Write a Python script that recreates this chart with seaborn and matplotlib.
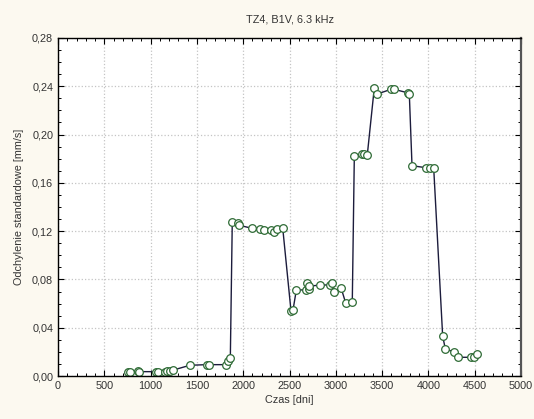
import matplotlib
matplotlib.use("Agg")
import matplotlib.pyplot as plt
import seaborn as sns
import pandas as pd
from matplotlib.ticker import MultipleLocator, FuncFormatter

days = [759, 778, 861, 878, 1055, 1083, 1156, 1180, 1210, 1239, 1425, 1609, 1631,
        1811, 1833, 1861,
        1882, 1941, 1955, 2092, 2181, 2225, 2300, 2336, 2362, 2427,
        2516, 2538, 2574, 2675, 2689, 2707, 2711, 2829, 2934, 2962, 2984, 3056, 3106, 3178,
        3200, 3280, 3308, 3340, 3416, 3448, 3596, 3628, 3783, 3794,
        3823, 3970, 4017, 4057,
        4154, 4183, 4276, 4323, 4457, 4492, 4528]
std_dev = [0.0036, 0.0036, 0.0039, 0.0036, 0.0036, 0.0030, 0.0036, 0.0039, 0.0045, 0.0048, 0.0089, 0.0094, 0.0094,
           0.0094, 0.0127, 0.0149,
           0.1278, 0.1270, 0.1249, 0.1224, 0.1218, 0.1208, 0.1212, 0.1193, 0.1220, 0.1224,
           0.0541, 0.0547, 0.0713, 0.0713, 0.0770, 0.0718, 0.0743, 0.0754, 0.0754, 0.0770, 0.0693, 0.0732, 0.0607, 0.0613,
           0.1820, 0.1837, 0.1837, 0.1831, 0.2389, 0.2336, 0.2375, 0.2375, 0.2345, 0.2334,
           0.1742, 0.1726, 0.1726, 0.1726,
           0.0331, 0.0224, 0.0199, 0.0155, 0.0155, 0.0160, 0.0180]

title = "TZ4, B1V, 6.3 kHz"
xlabel = "Czas [dni]"
ylabel = "Odchylenie standardowe [mm/s]"

df = pd.DataFrame({"days": days, "std": std_dev})

sns.set_style("white")
plt.rcParams['font.family'] = ['Liberation Sans', 'DejaVu Sans']

bg = '#fcf9f0'
fig = plt.figure(figsize=(5.34, 4.19), dpi=100, facecolor=bg)
ax = fig.add_axes([58/534, 1-376/419, (521-58)/534, (376-38)/419])
ax.set_facecolor('white')

sns.lineplot(data=df, x="days", y="std", ax=ax, estimator=None, sort=False,
             color='#1c1c3c', linewidth=1.0, marker='o', markersize=5.5,
             markerfacecolor='white', markeredgecolor='#2e6b35', markeredgewidth=0.9)

ax.set_xlim(0, 5000)
ax.set_ylim(0, 0.28)
ax.xaxis.set_major_locator(MultipleLocator(500))
ax.xaxis.set_minor_locator(MultipleLocator(100))
ax.yaxis.set_major_locator(MultipleLocator(0.04))
ax.yaxis.set_minor_locator(MultipleLocator(0.01))
ax.yaxis.set_major_formatter(FuncFormatter(lambda v, p: f"{v:.2f}".replace('.', ',')))

ax.grid(True, which='major', color='#c4c4c4', linestyle=':', linewidth=0.9)
ax.tick_params(which='both', direction='in', top=True, right=True, bottom=True, left=True,
               colors='black', labelcolor='#333333', labelsize=7.8)
ax.tick_params(which='major', length=4, width=0.8)
ax.tick_params(which='minor', length=2.5, width=0.7)

for s in ['left', 'bottom', 'top']:
    ax.spines[s].set_color('black')
    ax.spines[s].set_linewidth(1.0)
ax.spines['right'].set_color('#555555')
ax.spines['right'].set_linewidth(1.6)

ax.set_title(title, fontsize=7.8, color='#333333', pad=11)
ax.set_xlabel(xlabel, fontsize=7.8, color='#333333', labelpad=3)
ax.set_ylabel(ylabel, fontsize=7.8, color='#333333', labelpad=6)

fig.savefig("out.png", dpi=100, facecolor=bg)
